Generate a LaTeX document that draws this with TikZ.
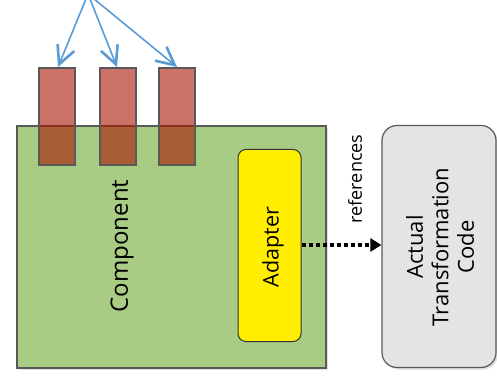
\documentclass[tikz,border=0pt]{standalone}
\usepackage{fontspec}
\setmainfont{Open Sans}
\usetikzlibrary{arrows.meta,shadows}
\definecolor{compgreen}{HTML}{A9CC84}
\definecolor{boxborder}{HTML}{595959}
\definecolor{barred}{RGB}{170,20,0}
\definecolor{adyellow}{HTML}{FFEE00}
\definecolor{codegray}{HTML}{E4E4E4}
\definecolor{linkblue}{HTML}{5B9BD5}
\tikzset{
  compbox/.style={draw=boxborder, line width=1.2pt, fill=compgreen, drop shadow={opacity=0.25, shadow xshift=2pt, shadow yshift=-2pt}},
  portbar/.style={draw=boxborder, line width=1.2pt, fill=barred, fill opacity=0.6, draw opacity=1},
  adbox/.style={draw=black!80, line width=1pt, fill=adyellow, rounded corners=8pt},
  codebox/.style={draw=boxborder, line width=1.2pt, fill=codegray, rounded corners=15pt, drop shadow={opacity=0.25, shadow xshift=2pt, shadow yshift=-2pt}},
  lbl/.style={rotate=90, inner sep=0pt, align=center},
  link/.style={draw=linkblue, line width=1.6pt, -{Straight Barb[length=18pt,width=18pt,line width=2.6pt]}},
  refarrow/.style={line width=3.5pt, dash pattern=on 4pt off 3pt, -{Triangle[length=11pt,width=13pt]}, shorten >=0pt}
}
\begin{document}
\begin{tikzpicture}[x=1pt,y=-1pt]
\useasboundingbox (0,0) rectangle (497,379);
\clip (0,0) rectangle (497,379);
% component
\path[compbox] (17,126) rectangle (326,368);
\node[lbl, font=\fontsize{24}{28}\selectfont] (comp) at (122,246) {Component};
% port bars
\path[portbar] (39,68) rectangle (75,165);
\path[portbar] (100,68) rectangle (136,165);
\path[portbar] (159,68) rectangle (195,165);
\coordinate (b1) at (58,67);
\coordinate (b2) at (117,67);
\coordinate (b3) at (177,67);
\coordinate (src) at (88,-6);
\draw[link] (src) -- (b1);
\draw[link] (src) -- (b2);
\draw[link] (src) -- (b3);
% adapter
\node[adbox, minimum width=63pt, minimum height=192pt, inner sep=0pt] (ad) at (269.5,245.5) {};
\node[lbl, font=\fontsize{21.5}{25}\selectfont] (adt) at (273,247) {Adapter};
% code box
\node[codebox, minimum width=114pt, minimum height=242pt, inner sep=0pt] (code) at (439,246.5) {};
\node[lbl, font=\fontsize{22}{25.5}\selectfont] (codet) at (440,247) {Actual\\Transformation\\Code};
% references arrow
\draw[refarrow] (ad.east |- 0,245) -- (code.west |- 0,245);
\node[lbl, font=\fontsize{18}{22}\selectfont] (reft) at (355,179) {references};
\end{tikzpicture}
\end{document}
